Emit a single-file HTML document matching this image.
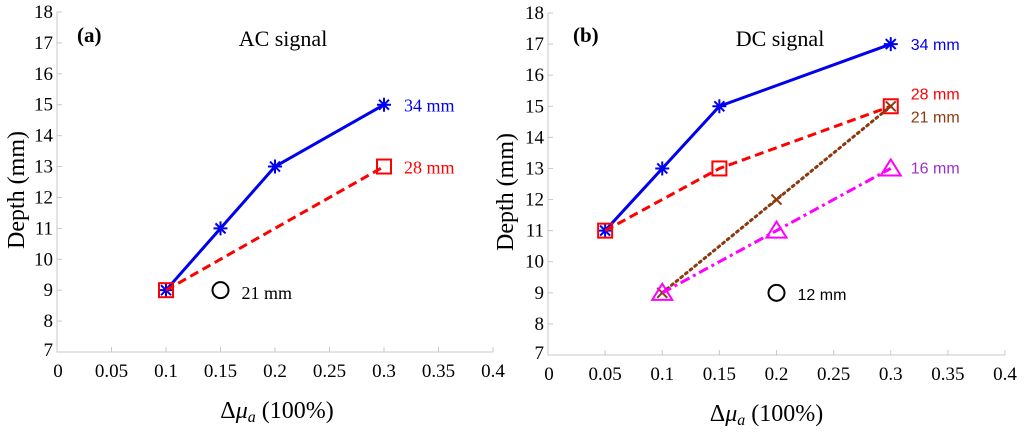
<!DOCTYPE html>
<html><head><meta charset="utf-8"><style>
body{margin:0;background:#fff;width:1024px;height:432px;overflow:hidden}
svg{display:block}
.serif{font-family:"Liberation Serif","Times New Roman","DejaVu Serif",serif}
.sans{font-family:"Liberation Sans",Arial,sans-serif}
</style></head><body>
<svg id="chart" width="1024" height="432" viewBox="0 0 1024 432" xmlns="http://www.w3.org/2000/svg"></svg>
<script>
// ---- data ----
const xTicks = [0,0.05,0.1,0.15,0.2,0.25,0.3,0.35,0.4];
const xTickLabels = ["0","0.05","0.1","0.15","0.2","0.25","0.3","0.35","0.4"];
const yTicks = [7,8,9,10,11,12,13,14,15,16,17,18];
const yTickLabels = ["7","8","9","10","11","12","13","14","15","16","17","18"];

const acX34 = [0.1,0.15,0.2,0.3];
const acY34 = [9,11,13,15];
const acX28 = [0.1,0.3];
const acY28 = [9,13];
const acX21 = [0.15];
const acY21 = [9];

const dcX34 = [0.05,0.1,0.15,0.3];
const dcY34 = [11,13,15,17];
const dcX28 = [0.05,0.15,0.3];
const dcY28 = [11,13,15];
const dcX21 = [0.1,0.2,0.3];
const dcY21 = [9,12,15];
const dcX16 = [0.1,0.2,0.3];
const dcY16 = [9,11,13];
const dcX12 = [0.2];
const dcY12 = [9];

const NS = "http://www.w3.org/2000/svg";
const svg = document.getElementById('chart');
function mk(tag, attrs, parent){const e=document.createElementNS(NS,tag);for(const k in attrs)e.setAttribute(k,attrs[k]);(parent||svg).appendChild(e);return e;}

function panel(p){
  const g = mk('g',{});
  
  
  const sx = v => p.x0 + (v-0)/(0.4-0)*(p.x1-p.x0);
  const sy = v => p.yb + (v-7)/(18-7)*(p.yt-p.yb);
  const ax = mk('path',{d:`M${p.x0},${p.yt}V${p.yb}H${p.x1}`,fill:'none',stroke:'#c8c8c8','stroke-width':1},g);
  
  
  xTicks.forEach((v,i)=>{
    mk('line',{x1:sx(v),x2:sx(v),y1:p.yb,y2:p.yb-5,stroke:'#c8c8c8'},g);
    const t=mk('text',{x:sx(v)+(i===0?1:0),y:p.yb+25,'text-anchor':'middle','class':'serif','font-size':19,fill:'#000'},g);
    t.textContent=xTickLabels[i];
    
    
  });
  yTicks.forEach((v,i)=>{
    mk('line',{x1:p.x0,x2:p.x0+5,y1:sy(v),y2:sy(v),stroke:'#c8c8c8'},g);
    const t=mk('text',{x:p.x0-4,y:sy(v)+(i===0?4:6),'text-anchor':'end','class':'serif','font-size':19,fill:'#000'},g);
    t.textContent=yTickLabels[i];
    
    
  });
  const yl=mk('text',{transform:`translate(${p.ylx},${(p.yt+p.yb)/2+8}) rotate(-90)`,'text-anchor':'middle','class':'serif','font-size':24,fill:'#000'},g);
  yl.textContent='Depth (mm)';
  
  
  const xl=mk('text',{x:(p.x0+p.x1)/2+(p.xlo||0),y:p.xly,'text-anchor':'middle','class':'serif','font-size':24,fill:'#000'},g);
  xl.innerHTML='Δ<tspan font-style="italic">μ</tspan><tspan font-style="italic" font-size="16" dy="4">a</tspan><tspan dy="-4"> (100%)</tspan>';
  
  
  const lb=mk('text',{x:p.lbx,y:42,'class':'serif','font-size':21,'font-weight':'bold',fill:'#000'},g);
  lb.textContent=p.label;
  
  
  const ti=mk('text',{x:p.tix,y:46,'text-anchor':'middle','class':'serif','font-size':22,fill:'#000'},g);
  ti.textContent=p.title;
  
  
  p.series.forEach(s=>{
    const sg=mk('g',{},g);
    
    
    if(s.xs.length>1){
      mk('polyline',{points:s.xs.map((x,i)=>sx(x)+','+sy(s.ys[i])).join(' '),fill:'none',stroke:s.color,'stroke-width':s.w||3,'stroke-dasharray':s.dash||'none','stroke-linecap':s.cap||'butt'},sg);
    }
    s.xs.forEach((x,i)=>{
      const cx=sx(x),cy=sy(s.ys[i]);const c=s.color;let m;
      if(s.marker==='star'){m=mk('path',{d:`M${cx-7},${cy}H${cx+7}M${cx},${cy-7}V${cy+7}M${cx-5},${cy-5}L${cx+5},${cy+5}M${cx-5},${cy+5}L${cx+5},${cy-5}`,stroke:c,'stroke-width':2,fill:'none'},sg);}
      else if(s.marker==='square'){m=mk('rect',{x:cx-7,y:cy-7,width:14,height:14,stroke:c,'stroke-width':2,fill:'none'},sg);}
      else if(s.marker==='x'){m=mk('path',{d:`M${cx-5},${cy-5}L${cx+5},${cy+5}M${cx-5},${cy+5}L${cx+5},${cy-5}`,stroke:c,'stroke-width':2,fill:'none'},sg);}
      else if(s.marker==='tri'){m=mk('path',{d:`M${cx},${cy-9}L${cx+10},${cy+7}H${cx-10}Z`,stroke:c,'stroke-width':2,fill:'none'},sg);}
      else if(s.marker==='circle'){m=mk('circle',{cx:cx,cy:cy,r:8,stroke:c,'stroke-width':2,fill:'none'},sg);}
      
      
    });
    const n=s.xs.length-1;
    const t=mk('text',{x:sx(s.xs[n])+(s.lx||20),y:sy(s.ys[n])+(s.ly||6),'class':p.annClass,'font-size':p.annSize,fill:s.lc||s.color},sg);
    t.textContent=s.text;
    
    
  });
}
panel({name:'panel-a-ac-signal',x0:57,x1:493,yt:12,yb:352,ylx:24,xly:418,xlo:2,lbx:77,tix:283,label:'(a)',title:'AC signal',
  annClass:'serif',annSize:18,
  series:[
    {name:'ac-34mm',xs:acX34,ys:acY34,color:'#0000ee',marker:'star',text:'34 mm',ly:7},
    {name:'ac-28mm',xs:acX28,ys:acY28,color:'#ff0000',marker:'square',dash:'9 5',text:'28 mm',ly:7},
    {name:'ac-21mm',xs:acX21,ys:acY21,color:'#000',marker:'circle',text:'21 mm',lx:21,ly:9}
  ]});
panel({name:'panel-b-dc-signal',x0:548,x1:1005,yt:13,yb:355,ylx:513,xly:421,xlo:-10,lbx:573,tix:780,label:'(b)',title:'DC signal',
  annClass:'sans',annSize:16,
  series:[
    {name:'dc-34mm',xs:dcX34,ys:dcY34,color:'#0000ee',marker:'star',text:'34 mm',ly:6},
    {name:'dc-28mm',xs:dcX28,ys:dcY28,color:'#ff0000',marker:'square',dash:'9 5',text:'28 mm',ly:-7},
    {name:'dc-21mm',xs:dcX21,ys:dcY21,color:'#8b3a0f',marker:'x',dash:'2 4',cap:'round',text:'21 mm',ly:16},
    {name:'dc-16mm',xs:dcX16,ys:dcY16,color:'#ff00ff',marker:'tri',dash:'10 4 3 4',text:'16 mm',lc:'#9932cc',ly:5},
    {name:'dc-12mm',xs:dcX12,ys:dcY12,color:'#000',marker:'circle',text:'12 mm',lx:21,ly:7}
  ]});
</script>
</body></html>
